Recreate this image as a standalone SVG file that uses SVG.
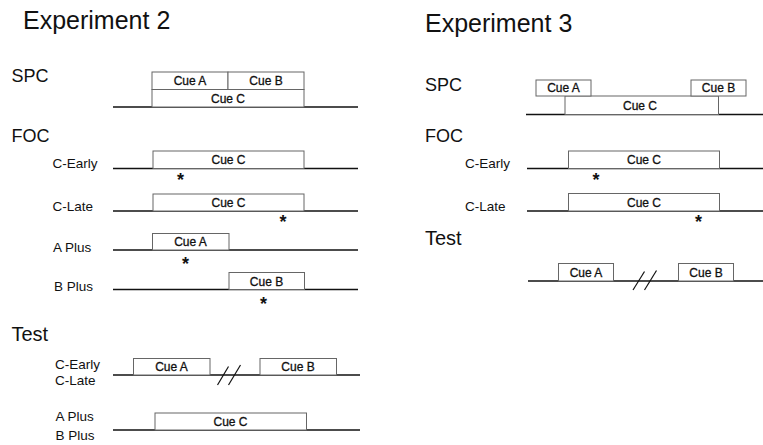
<svg xmlns="http://www.w3.org/2000/svg" width="763" height="445" viewBox="0 0 763 445">
<style>
text{font-family:"Liberation Sans",Arial,sans-serif;fill:#111}
.h{font-size:25px}
.sec{font-size:18px}
.test{font-size:20px}
.lab{font-size:13.5px}
.cue{font-size:12px;text-anchor:middle;stroke:#111;stroke-width:0.3}
.star{font-size:18px;font-weight:bold;text-anchor:middle}
.base{stroke:#111;stroke-width:1.6;fill:none}
.box{stroke:#666;stroke-width:1;fill:#fff}
.slash{stroke:#111;stroke-width:1.2;fill:none}
</style>
<rect width="763" height="445" fill="#fff"/>

<g id="exp2">
<text class="h" x="23" y="29">Experiment 2</text>
<text class="sec" x="11.5" y="82">SPC</text>
<text class="sec" x="11.5" y="142">FOC</text>
<text class="test" x="11.5" y="341">Test</text>
</g>

<g id="exp2-spc">
<line class="base" x1="113" y1="107" x2="358" y2="107"/>
<rect class="box" x="152" y="72" width="76" height="17.5"/>
<rect class="box" x="228" y="72" width="76" height="17.5"/>
<rect class="box" x="152" y="89.5" width="152" height="17.5"/>
<text class="cue" x="190" y="85">Cue A</text>
<text class="cue" x="266" y="85">Cue B</text>
<text class="cue" x="228" y="102.5">Cue C</text>
</g>

<g id="exp2-foc-cearly">
<text class="lab" x="52.5" y="168">C-Early</text>
<line class="base" x1="113" y1="168.5" x2="358" y2="168.5"/>
<rect class="box" x="153" y="151" width="151" height="17.5"/>
<text class="cue" x="228.5" y="164">Cue C</text>
<text class="star" x="180.5" y="186">*</text>
</g>

<g id="exp2-foc-clate">
<text class="lab" x="52.5" y="211">C-Late</text>
<line class="base" x1="113" y1="211" x2="358" y2="211"/>
<rect class="box" x="153" y="194" width="151" height="17"/>
<text class="cue" x="228.5" y="206.5">Cue C</text>
<text class="star" x="283" y="228">*</text>
</g>

<g id="exp2-foc-aplus">
<text class="lab" x="53" y="251.5">A Plus</text>
<line class="base" x1="113" y1="250" x2="358" y2="250"/>
<rect class="box" x="152.5" y="233.5" width="76.5" height="16.5"/>
<text class="cue" x="190.5" y="246">Cue A</text>
<text class="star" x="185.5" y="270">*</text>
</g>

<g id="exp2-foc-bplus">
<text class="lab" x="54" y="290.5">B Plus</text>
<line class="base" x1="113" y1="289.5" x2="358" y2="289.5"/>
<rect class="box" x="229" y="272.5" width="75.5" height="17"/>
<text class="cue" x="266.5" y="285.5">Cue B</text>
<text class="star" x="263.5" y="310">*</text>
</g>

<g id="exp2-test-c">
<text class="lab" x="55" y="368.5">C-Early</text>
<text class="lab" x="55" y="384.5">C-Late</text>
<line class="base" x1="113" y1="375" x2="360" y2="375"/>
<rect class="box" x="133.5" y="358.5" width="76.5" height="16.5"/>
<rect class="box" x="260" y="358.5" width="76.5" height="16.5"/>
<text class="cue" x="171.5" y="371">Cue A</text>
<text class="cue" x="298" y="371">Cue B</text>
<line class="slash" x1="217.5" y1="385" x2="228.5" y2="366.5"/>
<line class="slash" x1="228.5" y1="385" x2="240.5" y2="365"/>
</g>

<g id="exp2-test-ab">
<text class="lab" x="55.5" y="421">A Plus</text>
<text class="lab" x="55.5" y="439.5">B Plus</text>
<line class="base" x1="113" y1="430" x2="360" y2="430"/>
<rect class="box" x="155" y="413" width="151.5" height="17"/>
<text class="cue" x="230.5" y="425.5">Cue C</text>
</g>

<g id="exp3">
<text class="h" x="425" y="32">Experiment 3</text>
<text class="sec" x="425" y="90.5">SPC</text>
<text class="sec" x="425" y="142">FOC</text>
<text class="test" x="425" y="245">Test</text>
</g>

<g id="exp3-spc">
<line class="base" x1="526" y1="114.5" x2="763" y2="114.5"/>
<rect class="box" x="565" y="96" width="153.5" height="18.5"/>
<rect class="box" x="536" y="80" width="55" height="16"/>
<rect class="box" x="691" y="80" width="55" height="16"/>
<text class="cue" x="563.5" y="92">Cue A</text>
<text class="cue" x="718.5" y="92">Cue B</text>
<text class="cue" x="640" y="110">Cue C</text>
</g>

<g id="exp3-foc-cearly">
<text class="lab" x="465" y="168">C-Early</text>
<line class="base" x1="527" y1="168.5" x2="763" y2="168.5"/>
<rect class="box" x="568.5" y="151" width="151" height="17.5"/>
<text class="cue" x="644" y="164">Cue C</text>
<text class="star" x="596" y="186">*</text>
</g>

<g id="exp3-foc-clate">
<text class="lab" x="465" y="211">C-Late</text>
<line class="base" x1="527" y1="211" x2="763" y2="211"/>
<rect class="box" x="568.5" y="193.5" width="151" height="17.5"/>
<text class="cue" x="644" y="206.5">Cue C</text>
<text class="star" x="698.5" y="228">*</text>
</g>

<g id="exp3-test">
<line class="base" x1="528" y1="281" x2="763" y2="281"/>
<rect class="box" x="558.5" y="263.5" width="55" height="17.5"/>
<rect class="box" x="678.5" y="263.5" width="55" height="17.5"/>
<text class="cue" x="586" y="276.5">Cue A</text>
<text class="cue" x="706" y="276.5">Cue B</text>
<line class="slash" x1="633" y1="290" x2="644.5" y2="271.5"/>
<line class="slash" x1="644.5" y1="290" x2="656.5" y2="270.5"/>
</g>
</svg>
